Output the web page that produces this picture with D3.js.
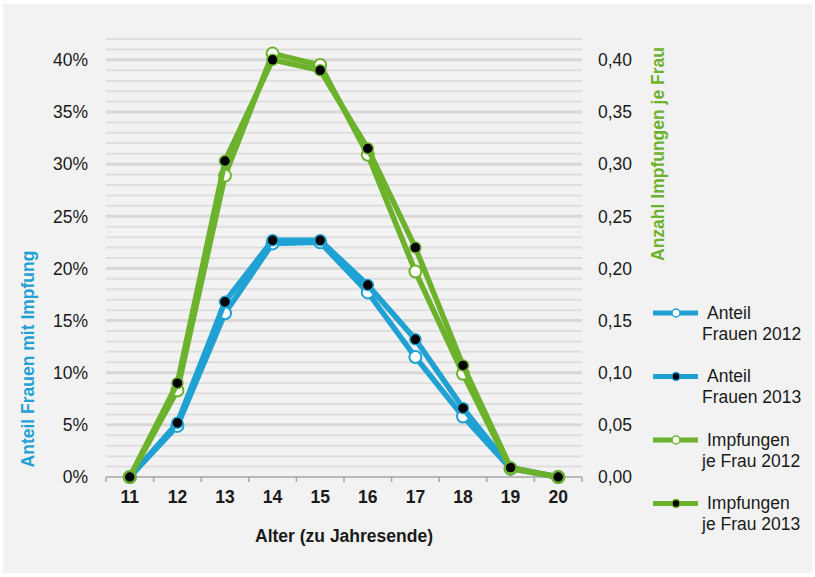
<!DOCTYPE html>
<html>
<head>
<meta charset="utf-8">
<script src="https://cdn.jsdelivr.net/npm/d3@7"></script>
<style>
  body { margin: 0; background: #fff; }
  text { font-family: "Liberation Sans", Arial, sans-serif; }
</style>
</head>
<body>
<div id="chart"></div>
<script>
// Alter (zu Jahresende)
const ages = ["11", "12", "13", "14", "15", "16", "17", "18", "19", "20"]

// Anteil Frauen mit Impfung (left axis)
const anteil2012 = [0, 0.049, 0.157, 0.224, 0.225, 0.177, 0.115, 0.058, 0.008, 0]
const anteil2013 = [0, 0.052, 0.168, 0.227, 0.227, 0.184, 0.132, 0.066, 0.009, 0]

// Impfungen je Frau (right axis)
const impf2012 = [0, 0.083, 0.289, 0.406, 0.395, 0.309, 0.197, 0.099, 0.008, 0]
const impf2013 = [0, 0.090, 0.303, 0.400, 0.390, 0.315, 0.220, 0.107, 0.009, 0]

const leftTicks = [0, 0.05, 0.10, 0.15, 0.20, 0.25, 0.30, 0.35, 0.40]
const rightTicks = [0, 0.05, 0.10, 0.15, 0.20, 0.25, 0.30, 0.35, 0.40]

const legendLabels = [
  ["Anteil", "Frauen 2012"],
  ["Anteil", "Frauen 2013"],
  ["Impfungen", "je Frau 2012"],
  ["Impfungen", "je Frau 2013"]
]

const BLUE = "#1fa1d3"
const GREEN = "#6cb22c"

const W = 815, H = 577
const plot = {left: 106, right: 582, top: 39, bottom: 477}

const de = d3.formatLocale({decimal: ",", thousands: ".", grouping: [3], currency: ["", " €"]})

const svg = d3.select("#chart").append("svg")
  .attr("width", W)
  .attr("height", H)

// background panel
svg.append("rect")
  .attr("x", 3).attr("y", 4)
  .attr("width", W - 6).attr("height", H - 8)
  .attr("fill", "#f2f2f2")

const x = d3.scaleBand()
  .domain(ages)
  .range([plot.left, plot.right])
  .padding(0)

const yLeft = d3.scaleLinear().domain([0, 0.42]).range([plot.bottom, plot.top])
const yRight = d3.scaleLinear().domain([0, 0.42]).range([plot.bottom, plot.top])

// gridlines every 1 %, heavier every 5 %
const gridVals = d3.range(1, 43).map(d => d / 100)
svg.append("g")
  .selectAll("line")
  .data(gridVals)
  .enter()
  .append("line")
    .attr("x1", plot.left)
    .attr("x2", plot.right)
    .attr("y1", d => yLeft(d))
    .attr("y2", d => yLeft(d))
    .attr("stroke", d => Math.round(d * 100) % 5 === 0 ? "#d8d8d8" : "#dedede")
    .attr("stroke-width", d => Math.round(d * 100) % 5 === 0 ? 3 : 2)

// x axis: line with ticks between categories
const xAxis = svg.append("g").attr("transform", `translate(0,${plot.bottom})`)
xAxis.append("line")
  .attr("x1", plot.left).attr("x2", plot.right)
  .attr("stroke", "#a6a6a6").attr("stroke-width", 1.5)
const edges = ages.map(a => x(a)).concat([plot.right])
xAxis.selectAll(".edge")
  .data(edges)
  .enter()
  .append("line")
    .attr("x1", d => d).attr("x2", d => d)
    .attr("y1", 0).attr("y2", 5)
    .attr("stroke", "#a6a6a6").attr("stroke-width", 1.5)
xAxis.selectAll(".lbl")
  .data(ages)
  .enter()
  .append("text")
    .attr("x", d => x(d) + x.bandwidth() / 2)
    .attr("y", 26)
    .attr("text-anchor", "middle")
    .style("font-size", "17.5px")
    .style("font-weight", "bold")
    .style("fill", "#1a1a1a")
    .text(d => d)

svg.append("text")
  .attr("x", (plot.left + plot.right) / 2)
  .attr("y", 541.5)
  .attr("text-anchor", "middle")
  .style("font-size", "17.5px")
  .style("font-weight", "bold")
  .style("fill", "#1a1a1a")
  .text("Alter (zu Jahresende)")

// left axis labels
svg.append("g")
  .selectAll("text")
  .data(leftTicks)
  .enter()
  .append("text")
    .attr("x", 88)
    .attr("y", d => yLeft(d))
    .attr("dy", "0.36em")
    .attr("text-anchor", "end")
    .style("font-size", "17.5px")
    .style("fill", "#1a1a1a")
    .text(d => de.format(".0%")(d))

// right axis labels
svg.append("g")
  .selectAll("text")
  .data(rightTicks)
  .enter()
  .append("text")
    .attr("x", 598)
    .attr("y", d => yRight(d))
    .attr("dy", "0.36em")
    .style("font-size", "17.5px")
    .style("fill", "#1a1a1a")
    .text(d => de.format(".2f")(d))

// axis titles
svg.append("text")
  .attr("transform", "translate(34,359) rotate(-90)")
  .attr("text-anchor", "middle")
  .style("font-size", "17.5px")
  .style("font-weight", "bold")
  .style("fill", BLUE)
  .text("Anteil Frauen mit Impfung")

svg.append("text")
  .attr("transform", "translate(664,154) rotate(-90)")
  .attr("text-anchor", "middle")
  .style("font-size", "17.5px")
  .style("font-weight", "bold")
  .style("fill", GREEN)
  .text("Anzahl Impfungen je Frau")

// series
const series = [
  {values: anteil2012, scale: yLeft, color: BLUE, filled: false},
  {values: anteil2013, scale: yLeft, color: BLUE, filled: true},
  {values: impf2012, scale: yRight, color: GREEN, filled: false},
  {values: impf2013, scale: yRight, color: GREEN, filled: true}
]

const cx = i => x(ages[i]) + x.bandwidth() / 2

series.forEach(function(s) {
  const g = svg.append("g")
  const line = d3.line()
    .x((d, i) => cx(i))
    .y(d => s.scale(d))
  g.append("path")
    .datum(s.values)
    .attr("d", line)
    .attr("fill", "none")
    .attr("stroke", s.color)
    .attr("stroke-width", 5.5)
    .attr("stroke-linejoin", "round")
  g.selectAll("circle")
    .data(s.values)
    .enter()
    .append("circle")
      .attr("cx", (d, i) => cx(i))
      .attr("cy", d => s.scale(d))
      .attr("r", s.filled ? 5.5 : 6)
      .attr("fill", s.filled ? "#000" : "#fff")
      .attr("stroke", s.color)
      .attr("stroke-width", s.filled ? 1.5 : 2)
})

// legend
const legend = svg.append("g")
  .selectAll("g")
  .data(series)
  .enter()
  .append("g")
    .attr("transform", (d, i) => `translate(0,${313 + i * 63.5})`)

legend.append("line")
  .attr("x1", 653).attr("x2", 698)
  .attr("stroke", d => d.color)
  .attr("stroke-width", 5)
legend.append("circle")
  .attr("cx", 676)
  .attr("r", 4)
  .attr("fill", d => d.filled ? "#000" : "#fff")
  .attr("stroke", d => d.color)
  .attr("stroke-width", 1.5)
const lt = legend.append("text")
  .style("font-size", "17.5px")
  .style("fill", "#1a1a1a")
lt.append("tspan")
  .attr("x", 707).attr("y", 5.5)
  .text((d, i) => legendLabels[i][0])
lt.append("tspan")
  .attr("x", 702).attr("y", 26.5)
  .text((d, i) => legendLabels[i][1])
</script>
</body>
</html>
